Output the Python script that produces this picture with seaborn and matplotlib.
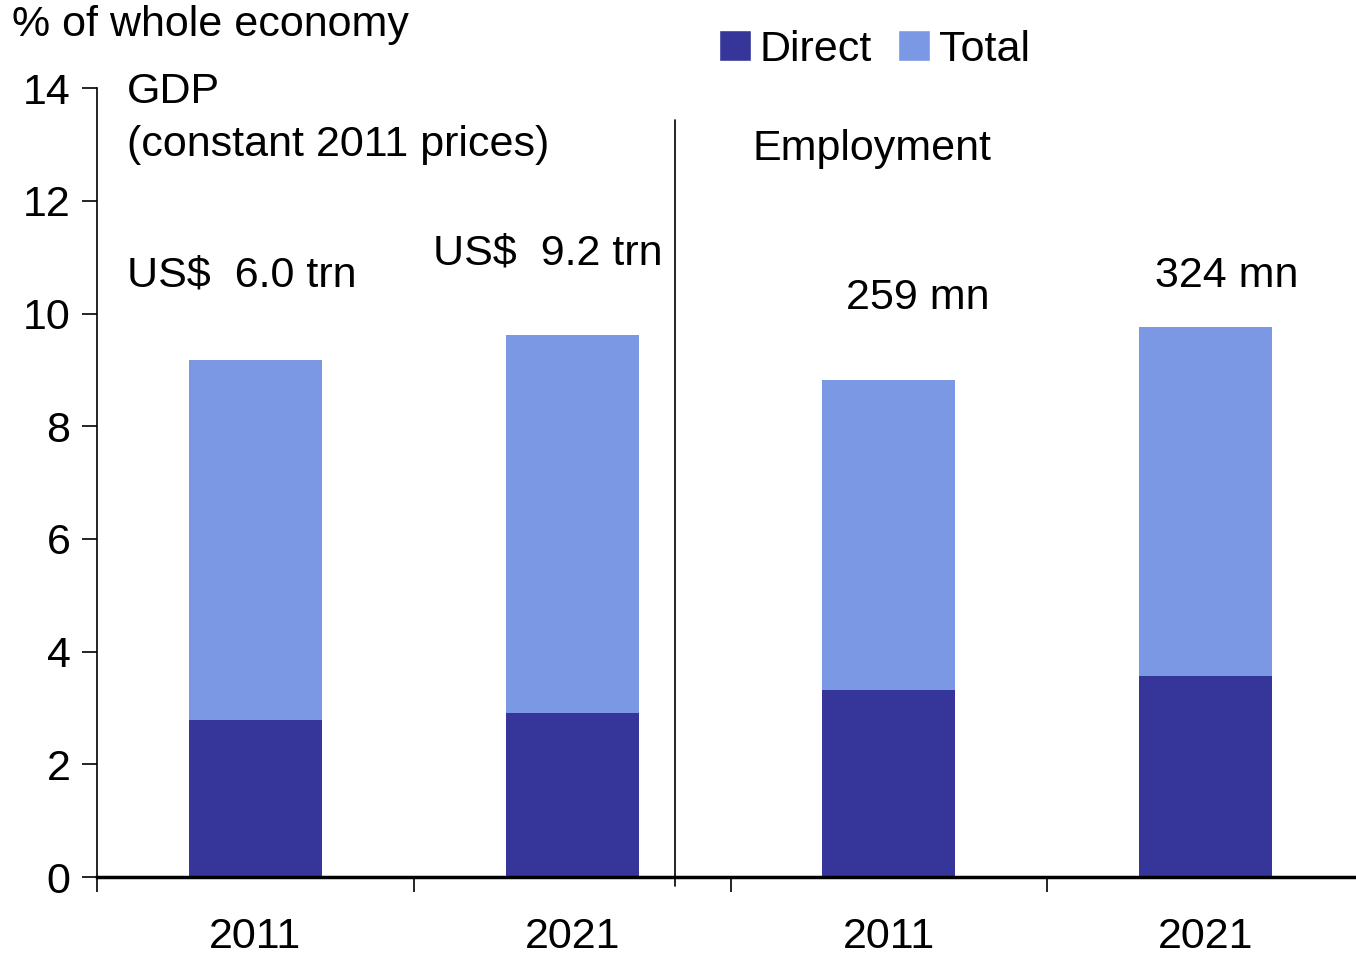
import matplotlib
matplotlib.use("Agg")
import matplotlib.pyplot as plt
from matplotlib.patches import Patch
import seaborn as sns
import pandas as pd

# values (% of whole economy)
groups = ["GDP 2011", "GDP 2021", "Emp 2011", "Emp 2021"]
year_labels = ["2011", "2021", "2011", "2021"]
direct = [2.79, 2.91, 3.32, 3.57]
total = [9.17, 9.62, 8.82, 9.76]
bar_notes = ["US$  6.0 trn", "US$  9.2 trn", "259 mn", "324 mn"]

DIRECT_C = "#36369A"
TOTAL_C = "#7B98E4"

sns.set_theme(style="white")
plt.rcParams["font.family"] = ["Liberation Sans", "DejaVu Sans"]
plt.rcParams["text.color"] = "black"
plt.rcParams["xtick.color"] = "black"
plt.rcParams["ytick.color"] = "black"

df = pd.DataFrame({"group": groups, "direct": direct, "total": total})

fig = plt.figure(figsize=(13.56, 9.59), dpi=100)
ax = fig.add_axes([0.0715, 0.0855, 0.9275, 0.8225])

# total drawn full height, direct overlaid from zero
sns.barplot(data=df, x="group", y="total", color=TOTAL_C, width=0.42,
            saturation=1, linewidth=0, ax=ax)
sns.barplot(data=df, x="group", y="direct", color=DIRECT_C, width=0.42,
            saturation=1, linewidth=0, ax=ax)

ax.set_xlim(-0.5, 3.47)
ax.set_ylim(0, 14)
ax.set_yticks(range(0, 15, 2))
ax.set_xlabel("")
ax.set_ylabel("")

ax.set_xticks(range(len(groups)))
ax.set_xticklabels(year_labels, fontsize=31)
ax.set_xticks([-0.5, 0.5, 1.5, 2.5], minor=True)
ax.tick_params(axis="x", which="major", length=0, pad=29)
ax.tick_params(axis="x", which="minor", length=11, width=1.2, direction="out",
               color="black", bottom=True)
ax.tick_params(axis="y", length=11, width=1.2, direction="out", color="black",
               left=True, labelsize=31, pad=8)

for s in ["top", "right"]:
    ax.spines[s].set_visible(False)
ax.spines["left"].set_color("black")
ax.spines["left"].set_linewidth(1.2)
ax.spines["bottom"].set_color("black")
ax.spines["bottom"].set_linewidth(2.5)

# divider between GDP and employment panels
ax.axvline(1.324, ymin=-0.012, ymax=0.96, color="black", lw=1.2, clip_on=False)

fs = 31
ax.text(-0.405, 13.93, "GDP", fontsize=fs, va="center", ha="left")
ax.text(-0.405, 12.99, "(constant 2011 prices)", fontsize=fs, va="center", ha="left")
ax.text(1.569, 12.93, "Employment", fontsize=fs, va="center", ha="left")

ax.text(-0.405, 10.68, bar_notes[0], fontsize=fs, va="center", ha="left")
ax.text(0.561, 11.07, bar_notes[1], fontsize=fs, va="center", ha="left")
ax.text(2.09, 10.27, bar_notes[2], fontsize=fs, va="center", ha="center")
ax.text(3.067, 10.66, bar_notes[3], fontsize=fs, va="center", ha="center")

fig.text(0.009, 0.974, "% of whole economy", fontsize=fs, va="center", ha="left")

handles = [Patch(facecolor=DIRECT_C, label="Direct"),
           Patch(facecolor=TOTAL_C, label="Total")]
fig.legend(handles=handles, loc="upper left", bbox_to_anchor=(0.511, 0.996),
           ncol=2, frameon=False, fontsize=fs, handlelength=0.75,
           handleheight=0.75, handletextpad=0.2, columnspacing=0.6,
           borderaxespad=0.2)

fig.savefig("out.png", dpi=100)
